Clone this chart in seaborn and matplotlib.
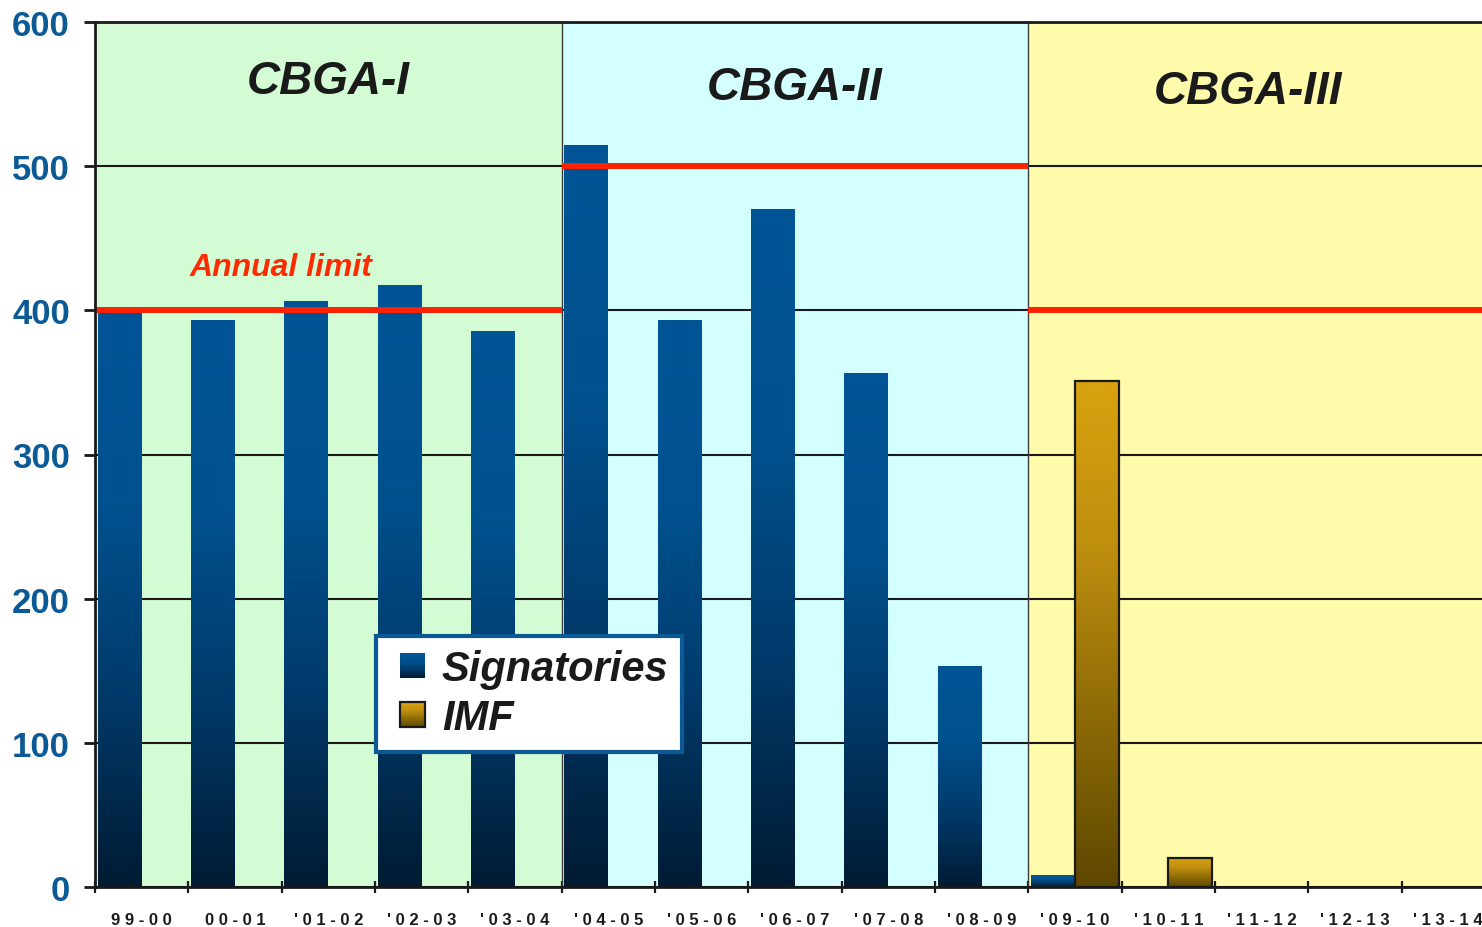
import matplotlib
matplotlib.use("Agg")
import numpy as np
import pandas as pd
import matplotlib.pyplot as plt
import seaborn as sns
from matplotlib.colors import LinearSegmentedColormap
from matplotlib.patches import Rectangle
from matplotlib.legend_handler import HandlerBase

# Gold sales per agreement year (tonnes)
seasons = ["99-00", "00-01", "'01-02", "'02-03", "'03-04",
           "'04-05", "'05-06", "'06-07", "'07-08", "'08-09",
           "'09-10", "'10-11", "'11-12", "'12-13", "'13-14"]
signatories = [399, 393, 406, 417, 385, 514, 393, 470, 356, 153, 8, 0, 0, 0, 0]
imf = [0, 0, 0, 0, 0, 0, 0, 0, 0, 0, 351, 20, 0, 0, 0]
series_names = ["Signatories", "IMF"]

# Agreement periods: first and last season index, annual ceiling
periods = ["CBGA-I", "CBGA-II", "CBGA-III"]
period_first = [0, 5, 10]
period_last = [4, 9, 14]
annual_limits = [400, 500, 400]
y_ticks = [0, 100, 200, 300, 400, 500, 600]

df = pd.DataFrame({
    "season": seasons * 2,
    "series": [series_names[0]] * len(seasons) + [series_names[1]] * len(seasons),
    "tonnes": signatories + imf,
})

sns.set_style("white")
plt.rcParams["font.family"] = ["Liberation Sans", "DejaVu Sans"]

fig = plt.figure(figsize=(14.82, 9.28), dpi=100)
ax = fig.add_axes([95 / 1482, 40 / 928, 1387 / 1482, 865 / 928])

bg_colors = ["#D4FCD4", "#D4FFFF", "#FFFBAA"]
ink = "#1a1a1a"
tick_blue = "#0B5A96"
limit_red = "#FF2200"

x_right = -0.5 + 1387 / 93.33

for first, last, col in zip(period_first, period_last, bg_colors):
    ax.axvspan(first - 0.5, last + 0.5, color=col, zorder=0, lw=0)

sns.barplot(data=df, x="season", y="tonnes", hue="series", order=seasons,
            hue_order=series_names, errorbar=None, width=0.94, ax=ax,
            legend=False, zorder=2)

cmaps = {
    "Signatories": LinearSegmentedColormap.from_list(
        "sig", ["#011B33", "#003A6A", "#00518F", "#005596"]),
    "IMF": LinearSegmentedColormap.from_list(
        "imf", ["#5E4700", "#8C6A06", "#BE8E0F", "#D9A20F"]),
}
edge_colors = {"Signatories": "none", "IMF": ink}

grad = np.linspace(0, 1, 256).reshape(-1, 1)
for name, container in zip(series_names, ax.containers):
    for patch in container.patches:
        h = patch.get_height()
        if h <= 0:
            patch.set_visible(False)
            continue
        x0 = patch.get_x()
        w = patch.get_width()
        ax.imshow(grad, extent=[x0, x0 + w, 0, h], origin="lower",
                  aspect="auto", cmap=cmaps[name], zorder=2, interpolation="bilinear")
        patch.set_facecolor("none")
        patch.set_edgecolor(edge_colors[name])
        patch.set_linewidth(1.6)
        patch.set_zorder(2.5)

# Period separators, annual ceilings and period titles
for sep in period_first[1:]:
    ax.axvline(sep - 0.5, color="#3a3a3a", lw=1.0, zorder=1.5)

title_y = [559, 555, 552]
for name, first, last, limit, ty in zip(periods, period_first, period_last,
                                        annual_limits, title_y):
    left = first - 0.5
    right = min(last + 0.5, x_right - 0.15)
    ax.hlines(limit, left, last + 0.5, color=limit_red, lw=4.3, zorder=4)
    ax.text((left + right) / 2, ty, name, ha="center", va="center",
            fontsize=33, fontweight="bold", fontstyle="italic", color=ink, zorder=5)

ax.text(1.49, 430, "Annual limit", ha="center", va="center", fontsize=23,
        fontweight="bold", fontstyle="italic", color="#FF2A00", zorder=5)

# Axes styling
ax.set_yticks(y_ticks)
ax.set_yticklabels([str(v) for v in y_ticks])
ax.yaxis.grid(True, color=ink, lw=1.5)
ax.xaxis.grid(False)
ax.set_axisbelow(True)
for g in ax.get_ygridlines():
    g.set_zorder(1)

ax.set_xticks(np.arange(-0.5, len(seasons), 1.0))
ax.set_xticklabels([])
ax.set_xticks(np.arange(len(seasons)), minor=True)
ax.set_xticklabels([" ".join(s) for s in seasons], minor=True)
ax.set_xlim(-0.5, x_right)
ax.set_ylim(0, 600)
ax.tick_params(axis="x", which="major", direction="inout", length=9, width=1.6,
               color=ink, bottom=True)
ax.tick_params(axis="x", which="minor", length=0, pad=18, labelsize=12,
               labelcolor=ink)
for lab in ax.get_xticklabels(minor=True):
    lab.set_fontweight("bold")
ax.tick_params(axis="y", direction="out", length=8, width=2, color=ink,
               pad=10, labelsize=25, labelcolor=tick_blue, left=True)
for lab in ax.get_yticklabels():
    lab.set_fontweight("bold")

ax.set_xlabel("")
ax.set_ylabel("")
for side in ["left", "bottom", "top"]:
    ax.spines[side].set_visible(True)
    ax.spines[side].set_color(ink)
    ax.spines[side].set_linewidth(2)
    ax.spines[side].set_zorder(6)
ax.spines["right"].set_visible(False)


class GradientSwatch(HandlerBase):
    """Square legend key filled with a vertical gradient, right-aligned in its box."""

    def __init__(self, cmap, edgecolor="none"):
        super().__init__()
        self.cmap = cmap
        self.edgecolor = edgecolor

    def create_artists(self, legend, orig_handle, xdescent, ydescent, width,
                       height, fontsize, trans):
        n = 30
        side = height
        x0 = -xdescent + width - side
        arts = []
        for i in range(n):
            y0 = -ydescent + side * i / n
            arts.append(Rectangle((x0, y0), side, side / n * 1.05,
                                  facecolor=self.cmap(i / (n - 1)),
                                  edgecolor="none", transform=trans))
        if self.edgecolor != "none":
            arts.append(Rectangle((x0, -ydescent), side, side,
                                  facecolor="none", edgecolor=self.edgecolor,
                                  lw=1.6, transform=trans))
        return arts


handles = [Rectangle((0, 0), 1, 1) for _ in series_names]
leg = ax.legend(handles, series_names, loc="upper left",
                bbox_to_anchor=((376 - 95) / 1387, (888 - 637) / 865),
                borderaxespad=0, frameon=True, fancybox=False,
                prop={"size": 30, "weight": "bold", "style": "italic"},
                handlelength=0.85, handleheight=0.55, handletextpad=0.41,
                borderpad=0.32, labelspacing=0.22,
                handler_map={handles[0]: GradientSwatch(cmaps["Signatories"]),
                             handles[1]: GradientSwatch(cmaps["IMF"], ink)})
leg.get_frame().set_facecolor("white")
leg.get_frame().set_edgecolor(tick_blue)
leg.get_frame().set_linewidth(3)
leg.get_frame().set_alpha(1)
leg.set_zorder(10)
for t in leg.get_texts():
    t.set_color(ink)

fig.savefig("out.png", dpi=100)
